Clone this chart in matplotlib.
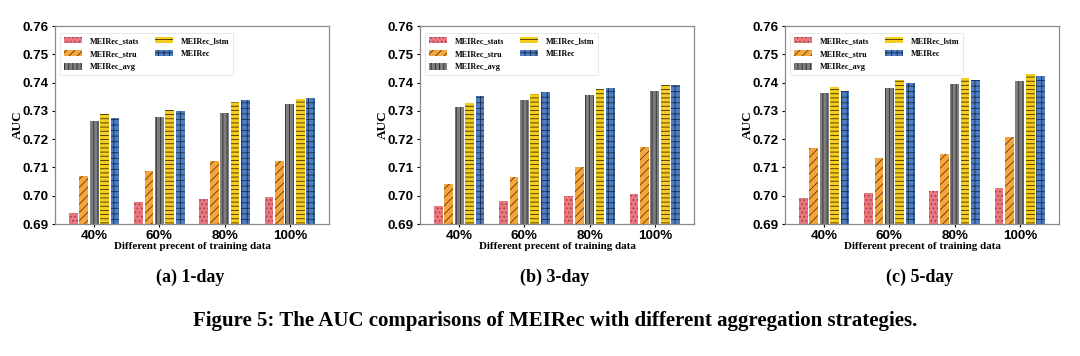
import matplotlib
matplotlib.use('Agg')
from matplotlib import pyplot as plt
import numpy as np

plt.rcParams['hatch.linewidth'] = 0.6

# data
percents = ['40%', '60%', '80%', '100%']
series = ['MEIRec_stats', 'MEIRec_stru', 'MEIRec_avg', 'MEIRec_lstm', 'MEIRec']
panel_titles = ['(a) 1-day', '(b) 3-day', '(c) 5-day']

day1_stats = [0.6939, 0.6979, 0.6990, 0.6996]
day1_stru = [0.7068, 0.7088, 0.7121, 0.7121]
day1_avg = [0.7265, 0.7279, 0.7292, 0.7325]
day1_lstm = [0.7289, 0.7304, 0.7333, 0.7343]
day1_meirec = [0.7273, 0.7301, 0.7340, 0.7345]

day3_stats = [0.6964, 0.6983, 0.6998, 0.7007]
day3_stru = [0.7043, 0.7066, 0.7100, 0.7172]
day3_avg = [0.7312, 0.7337, 0.7355, 0.7369]
day3_lstm = [0.7327, 0.7360, 0.7376, 0.7392]
day3_meirec = [0.7352, 0.7368, 0.7380, 0.7391]

day5_stats = [0.6993, 0.7009, 0.7015, 0.7027]
day5_stru = [0.7169, 0.7135, 0.7147, 0.7208]
day5_avg = [0.7362, 0.7382, 0.7394, 0.7404]
day5_lstm = [0.7384, 0.7409, 0.7416, 0.7430]
day5_meirec = [0.7370, 0.7400, 0.7410, 0.7425]

panels = [
    [day1_stats, day1_stru, day1_avg, day1_lstm, day1_meirec],
    [day3_stats, day3_stru, day3_avg, day3_lstm, day3_meirec],
    [day5_stats, day5_stru, day5_avg, day5_lstm, day5_meirec],
]

colors = ['#E9777F', '#F6A53A', '#7F7F7F', '#F4CD1E', '#4B7EC3']
edges = ['#9A3A44', '#5A3A10', '#2A2A2A', '#3A3000', '#1E2E4A']
hatches = ['....', '////', '||||', '----', '+++']

fig = plt.figure(figsize=(10.8, 3.56), dpi=100)

lefts = [55, 420, 785]
x = np.arange(len(percents))
step = 0.16
width = 0.135
yt = np.arange(0.69, 0.7601, 0.01)

for p in range(3):
    ax = fig.add_axes([lefts[p] / 1080, 132 / 356, 274 / 1080, 198 / 356])
    for i, vals in enumerate(panels[p]):
        ax.bar(x + (i - 2) * step, np.array(vals) - 0.69, width, bottom=0.69,
               color=colors[i], edgecolor=edges[i], linewidth=0,
               hatch=hatches[i], label=series[i])
    ax.set_ylim(0.69, 0.76)
    ax.set_xlim(-0.6, 3.6)
    ax.set_xticks(x)
    ax.set_xticklabels(percents, fontsize=9.7, fontweight='bold',
                       fontfamily='Liberation Sans')
    ax.set_yticks(yt)
    ax.set_yticklabels([f'{v:.2f}' for v in yt], fontsize=9.6,
                       fontweight='bold', fontfamily='Liberation Sans')
    ax.tick_params(length=2.5, width=0.8, pad=2)
    ax.tick_params(axis='x', pad=1.5)
    for s in ax.spines.values():
        s.set_color('#8a8a8a')
        s.set_linewidth(0.9)
    ax.set_ylabel('AUC', fontsize=9.5, fontweight='bold',
                  fontfamily='Liberation Serif', labelpad=-1)
    ax.set_xlabel('Different precent of training data', fontsize=7.9,
                  fontweight='bold', fontfamily='Liberation Serif', labelpad=0)
    leg = ax.legend(loc='upper left', ncol=2, bbox_to_anchor=(0.005, 0.985),
                    prop={'family': 'Liberation Serif', 'weight': 'bold', 'size': 5.9},
                    handlelength=2.2, handleheight=0.8, handletextpad=0.9,
                    columnspacing=2.0, labelspacing=0.65, fancybox=False,
                    borderpad=0.45)
    leg.get_frame().set_edgecolor('#dddddd')
    leg.get_frame().set_linewidth(0.6)
    cx = (lefts[p] + 135) / 1080
    fig.text(cx, 1 - 277 / 356, panel_titles[p], ha='center', va='center',
             fontsize=13, fontweight='bold', fontfamily='Liberation Serif')

fig.text(555 / 1080, 1 - 321 / 356,
         'Figure 5: The AUC comparisons of MEIRec with different aggregation strategies.',
         ha='center', va='center', fontsize=15, fontweight='bold',
         fontfamily='Liberation Serif')

fig.savefig('out.png', dpi=100)
